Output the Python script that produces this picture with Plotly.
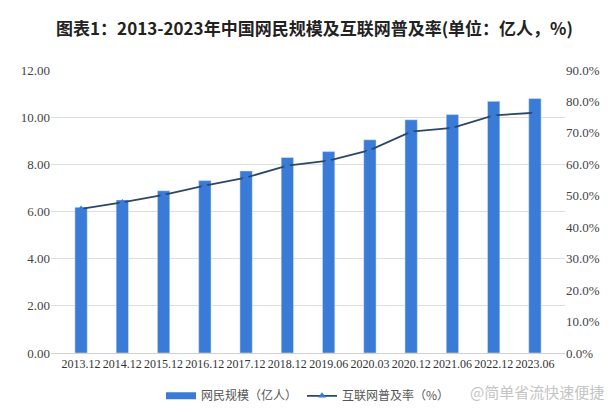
import plotly.graph_objects as go

periods = ["2013.12", "2014.12", "2015.12", "2016.12", "2017.12", "2018.12",
           "2019.06", "2020.03", "2020.12", "2021.06", "2022.12", "2023.06"]
netizens = [6.18, 6.49, 6.88, 7.31, 7.72, 8.29, 8.54, 9.04, 9.89, 10.11, 10.67, 10.79]
penetration = [45.8, 47.9, 50.3, 53.2, 55.8, 59.6, 61.2, 64.5, 70.4, 71.6, 75.6, 76.4]

left_ticks = [0, 2, 4, 6, 8, 10, 12]
right_ticks = [0, 10, 20, 30, 40, 50, 60, 70, 80, 90]

bar_blue = "#3a7bd8"

fig = go.Figure()
fig.add_trace(go.Bar(x=periods, y=netizens, name="网民规模（亿人）",
                     marker_color=bar_blue, yaxis="y", showlegend=False))
# legend entry drawn as a wide bar swatch, like the original
fig.add_trace(go.Scatter(x=[None], y=[None], name="网民规模（亿人）", mode="lines",
                         line=dict(color=bar_blue, width=7)))
fig.add_trace(go.Scatter(x=periods, y=penetration, name="互联网普及率（%）",
                         mode="lines+markers", yaxis="y2",
                         line=dict(color="#2d4766", width=1.8),
                         marker=dict(symbol="triangle-up", size=7, color=bar_blue)))

tickfont = dict(family="Liberation Serif", size=13, color="#444")
fig.update_layout(
    width=613, height=414,
    margin=dict(l=43, r=56, t=62, b=60),
    paper_bgcolor="white", plot_bgcolor="white",
    title=dict(text="<b>图表1：2013-2023年中国网民规模及互联网普及率(单位：亿人，%)</b>",
               x=0.5, xanchor="center", y=0.95, yanchor="middle",
               font=dict(family="Noto Sans CJK SC", size=17, color="#222")),
    bargap=0.7,
    xaxis=dict(showgrid=False, showline=True, linecolor="#d0d0d0",
               tickfont=dict(family="Liberation Serif", size=12, color="#333"),
               tickangle=0, automargin=False, ticks=""),
    yaxis=dict(range=[0, 12], tickvals=left_ticks,
               ticktext=[f"{v:.2f}" for v in left_ticks],
               gridcolor="#dddddd", zeroline=False, tickfont=tickfont),
    yaxis2=dict(range=[0, 90], tickvals=right_ticks,
                ticktext=[f"{v:.1f}%" for v in right_ticks],
                overlaying="y", side="right", showgrid=False, zeroline=False,
                tickfont=tickfont),
    legend=dict(orientation="h", x=0.5, xanchor="center", y=-0.1, yanchor="top",
                font=dict(family="Noto Sans CJK SC", size=12, color="#555")),
    showlegend=True,
)
fig.add_annotation(text="@简单省流快速便捷", xref="paper", yref="paper",
                   x=1.08, y=-0.135, xanchor="right", yanchor="middle",
                   showarrow=False,
                   font=dict(family="Noto Sans CJK SC", size=15, color="#c4c4c4"))

fig.write_html("out.html")
